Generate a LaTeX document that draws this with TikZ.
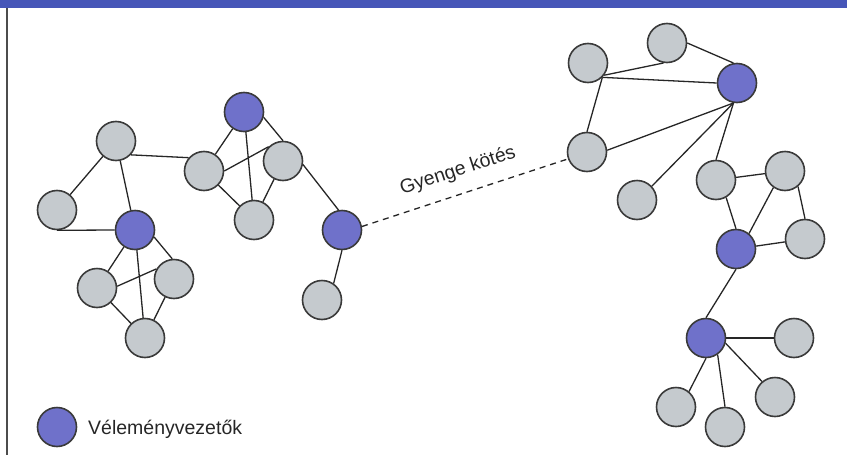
\documentclass[tikz,border=0pt]{standalone}
\usepackage{fontspec}
\setmainfont{Liberation Sans}
\usepackage{xcolor}
\definecolor{lead}{HTML}{6F71CA}
\definecolor{memb}{HTML}{C5CACE}
\definecolor{bar}{HTML}{4656B8}
\definecolor{rim}{HTML}{3A3A3A}

\begin{document}
\begin{tikzpicture}[x=1pt, y=-1pt,
        member/.style={circle, draw=rim, line width=1.6pt, fill=memb,
                       minimum size=39pt, inner sep=0pt},
        leader/.style={member, fill=lead},
        tie/.style={line width=1.3pt, draw=black!85},
        weak/.style={tie, dash pattern=on 6pt off 5pt},
        lbl/.style={font=\fontsize{19.5}{22}\selectfont, text=black!85, inner sep=1pt}
    ]
    \useasboundingbox (0,0) rectangle (847,469);
    % Frame
    \fill[bar] (0,0) rectangle (847,8);
    \draw[line width=1.5pt, black!70] (7,8) -- (7,455);

    % ---- Left group ----
    \node[member] (a1) at (116,141) {};
    \node[member] (a2) at (57,210)  {};
    \node[leader] (a3) at (135,230) {};
    \node[member] (a4) at (97,288)  {};
    \node[member] (a5) at (174,279) {};
    \node[member] (a6) at (145,338) {};

    % ---- Middle group ----
    \node[leader] (b1) at (244,112) {};
    \node[member] (b2) at (204,171) {};
    \node[member] (b3) at (283,161) {};
    \node[member] (b4) at (254,220) {};
    \node[leader] (c1) at (342,230) {};
    \node[member] (c2) at (322,300) {};

    % ---- Upper right group ----
    \node[member] (d1) at (588,63)  {};
    \node[member] (d2) at (667,43)  {};
    \node[leader] (d3) at (737,83)  {};
    \node[member] (d4) at (587,152) {};
    \node[member] (d5) at (637,200) {};

    % ---- Right group ----
    \node[member] (e1) at (716,180) {};
    \node[member] (e2) at (785,171) {};
    \node[leader] (e3) at (736,249) {};
    \node[member] (e4) at (805,239) {};

    % ---- Lower right group ----
    \node[leader] (f1) at (706,338) {};
    \node[member] (f2) at (794,338) {};
    \node[member] (f3) at (775,397) {};
    \node[member] (f4) at (725,427) {};
    \node[member] (f5) at (676,407) {};

    % Ties
    \draw[tie] (a1) -- (a2);
    \draw[tie] (a1) -- (a3);
    \draw[tie] (a2.south) -- (a3.west);
    \draw[tie] (a1.-43) -- (b2.139);
    \draw[tie] (a3) -- (a4);
    \draw[tie] (a3.-20) -- (a5.95);
    \draw[tie] (a3) -- (a6);
    \draw[tie] (a4.5) -- (a5.150);
    \draw[tie] (a4) -- (a6);
    \draw[tie] (a5) -- (a6);

    \draw[tie] (b1) -- (b2);
    \draw[tie] (b1.-15) -- (b3.north);
    \draw[tie] (b1) -- (b4);
    \draw[tie] (b2.east) -- (b3.135);
    \draw[tie] (b2) -- (b4);
    \draw[tie] (b3) -- (b4);
    \draw[tie] (b3.-10) -- (c1.100);
    \draw[tie] (c1.south) -- (c2.55);

    \draw[tie] (d1.-37) -- (d2.-100);
    \draw[tie] (d1.-45) -- (d3.west);
    \draw[tie] (d2.east) -- (d3.100);
    \draw[tie] (d1.-45) -- (d4.north);
    \draw[tie] (d4.5) -- (d3.-100);
    \draw[tie] (d5.43) -- (d3.-100);
    \draw[tie] (e1.north) -- (d3.-100);

    \draw[tie] (e1) -- (e2);
    \draw[tie] (e1.-60) -- (e3.north);
    \draw[tie] (e2.-125) -- (e3.50);
    \draw[tie] (e2.-50) -- (e4.north);
    \draw[tie] (e3) -- (e4);
    \draw[tie] (e3.south) -- (f1.north);

    \draw[tie] (f1) -- (f2);
    \draw[tie] (f1.-15) -- (f3.130);
    \draw[tie] (f1.-55) -- (f4.north);
    \draw[tie] (f1.south) -- (f5.50);

    % Weak tie
    \draw[weak] (c1.10) -- node[lbl, sloped, pos=0.5, above=12pt] {Gyenge kötés} (d4.200);

    % ---- Legend ----
    \node[leader] (key) at (57,427) {};
    \node[lbl, anchor=west] (keytext) at (87,429) {Véleményvezetők};
\end{tikzpicture}
\end{document}
